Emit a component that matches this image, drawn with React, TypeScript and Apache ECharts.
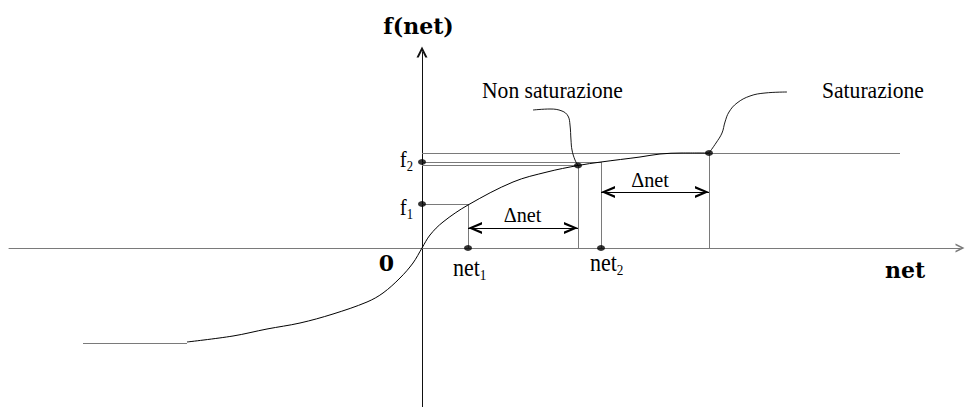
import { useEffect, useRef } from 'react';
import * as echarts from 'echarts';

// Schematic units: 1 unit of net / f(net) on both axes
const curveNet = [-2.35, -1.89, -1.55, -1.22, -0.89, -0.55, -0.39, -0.22, -0.09, 0, 0.08, 0.21, 0.46, 0.91, 1.25, 1.56, 1.79, 2.18, 2.38, 2.6, 2.87];
const curveF = [-0.94, -0.88, -0.81, -0.75, -0.66, -0.54, -0.45, -0.3, -0.15, 0, 0.13, 0.26, 0.43, 0.66, 0.76, 0.825, 0.86, 0.91, 0.94, 0.95, 0.95];

const NET1 = 0.46;
const F1 = 0.44;
const NET_NS = 1.56; // "Non saturazione" point
const F_NS = 0.825;
const NET2 = 1.79;
const F2 = 0.86;
const NET_SAT = 2.87; // "Saturazione" point
const F_SAT = 0.95;
const NET_END = 4.78;
const NET_LEFT = -3.39;
const F_LOW = -0.95;
const ARROW_LEVELS = [0.2, 0.56];

const leaderNsNet = [1.11, 1.28, 1.4, 1.46, 1.48, 1.49, 1.5, 1.53, 1.56];
const leaderNsF = [1.38, 1.39, 1.37, 1.32, 1.23, 1.08, 0.98, 0.88, 0.825];
const leaderSatNet = [2.87, 2.94, 3.0, 3.03, 3.07, 3.15, 3.28, 3.43, 3.65];
const leaderSatF = [0.95, 1.05, 1.15, 1.26, 1.36, 1.45, 1.52, 1.55, 1.56];

const ARROW = 'path://M0,100 L50,0 L100,100 L80,100 L50,38 L20,100 Z';

const zip = (a: number[], b: number[]) => a.map((v, i) => [v, b[i]]);

export default function App() {
  const ref = useRef<HTMLDivElement>(null);
  useEffect(() => {
    const chart = echarts.init(ref.current!, null, { renderer: 'svg' });
    const serif = 'Liberation Serif';
    const bold = 'DejaVu Serif';
    const gray = '#7a7a7a';

    const helpers = [
      [[0, F_SAT], [NET_END, F_SAT]],
      [[0, F2], [NET2, F2]],
      [[0, F_NS], [NET_NS, F_NS]],
      [[0, F1], [NET1, F1]],
      [[NET1, F1], [NET1, 0]],
      [[NET_NS, F_NS], [NET_NS, 0]],
      [[NET2, F2], [NET2, 0]],
      [[NET_SAT, F_SAT], [NET_SAT, 0]],
      [[NET_LEFT, F_LOW], [curveNet[0], F_LOW]],
    ];

    const dots = [[0, F2], [0, F1], [NET1, 0], [NET2, 0], [NET_NS, F_NS], [NET_SAT, F_SAT]];

    const subRich = (size: number, lh: number, sub: number) => ({
      a: { fontFamily: serif, fontSize: size, lineHeight: lh, fill: '#000' },
      b: { fontFamily: serif, fontSize: sub, lineHeight: sub, verticalAlign: 'bottom', fill: '#000' },
    });

    chart.setOption({
      animation: false,
      backgroundColor: '#ffffff',
      grid: { left: 9, right: 7, top: 52, bottom: 0 },
      xAxis: {
        type: 'value',
        min: -4.13,
        max: 5.38,
        axisLine: {
          onZero: true,
          lineStyle: { color: gray, width: 1 },
          symbol: ['none', ARROW],
          symbolSize: [9, 13],
        },
        axisTick: { show: false },
        axisLabel: { show: false },
        splitLine: { show: false },
      },
      yAxis: {
        type: 'value',
        min: -1.59,
        max: 1.96,
        axisLine: {
          onZero: true,
          lineStyle: { color: '#111', width: 1 },
          symbol: ['none', ARROW],
          symbolSize: [13, 11],
        },
        axisTick: { show: false },
        axisLabel: { show: false },
        splitLine: { show: false },
      },
      series: [
        {
          type: 'lines',
          coordinateSystem: 'cartesian2d',
          polyline: false,
          silent: true,
          z: 1,
          lineStyle: { color: gray, width: 1, opacity: 1 },
          data: helpers.map((c) => ({ coords: c })),
        },
        {
          type: 'line',
          data: zip(curveNet, curveF),
          smooth: 0.35,
          showSymbol: false,
          silent: true,
          z: 3,
          lineStyle: { color: '#000', width: 1 },
          markLine: {
            silent: true,
            symbol: [ARROW, ARROW],
            symbolSize: [12, 14],
            symbolOffset: [[0, 7], [0, 7]],
            label: { show: false },
            lineStyle: { color: '#000', width: 1, type: 'solid' },
            data: [
              [{ coord: [NET1, ARROW_LEVELS[0]] }, { coord: [NET_NS, ARROW_LEVELS[0]] }],
              [{ coord: [NET2, ARROW_LEVELS[1]] }, { coord: [NET_SAT, ARROW_LEVELS[1]] }],
            ],
          },
        },
        {
          type: 'line',
          data: zip(leaderNsNet, leaderNsF),
          smooth: 0.4,
          showSymbol: false,
          silent: true,
          z: 3,
          lineStyle: { color: '#000', width: 0.9 },
        },
        {
          type: 'line',
          data: zip(leaderSatNet, leaderSatF),
          smooth: 0.4,
          showSymbol: false,
          silent: true,
          z: 3,
          lineStyle: { color: '#000', width: 0.9 },
        },
        {
          type: 'scatter',
          data: dots,
          symbol: 'circle',
          symbolSize: [8, 6],
          silent: true,
          z: 5,
          itemStyle: { color: '#000' },
        },
      ],
      graphic: [
        { type: 'text', x: 418.5, y: 26, style: { text: 'f(net)', fontFamily: bold, fontWeight: 'bold', fontSize: 22, fill: '#000', align: 'center', verticalAlign: 'middle' } },
        { type: 'text', x: 482, y: 90, scaleX: 0.9, style: { text: 'Non saturazione', fontFamily: serif, fontSize: 24, fill: '#000', align: 'left', verticalAlign: 'middle' } },
        { type: 'text', x: 822, y: 90, scaleX: 0.9, style: { text: 'Saturazione', fontFamily: serif, fontSize: 24, fill: '#000', align: 'left', verticalAlign: 'middle' } },
        { type: 'text', x: 522.5, y: 215, scaleX: 0.92, style: { text: 'Δnet', fontFamily: serif, fontSize: 22, fill: '#000', align: 'center', verticalAlign: 'middle' } },
        { type: 'text', x: 650, y: 180, scaleX: 0.92, style: { text: 'Δnet', fontFamily: serif, fontSize: 22, fill: '#000', align: 'center', verticalAlign: 'middle' } },
        { type: 'text', x: 413, y: 160, scaleX: 0.9, style: { text: '{a|f}{b|2}', fontFamily: serif, rich: subRich(23, 26, 14), align: 'right', verticalAlign: 'middle' } },
        { type: 'text', x: 413, y: 208, scaleX: 0.9, style: { text: '{a|f}{b|1}', fontFamily: serif, rich: subRich(23, 26, 14), align: 'right', verticalAlign: 'middle' } },
        { type: 'text', x: 386.5, y: 263, style: { text: '0', fontFamily: bold, fontWeight: 'bold', fontSize: 22, fill: '#000', align: 'center', verticalAlign: 'middle' } },
        { type: 'text', x: 453, y: 268, scaleX: 0.88, style: { text: '{a|net}{b|1}', fontFamily: serif, rich: subRich(25, 28, 15), align: 'left', verticalAlign: 'middle' } },
        { type: 'text', x: 590, y: 263, scaleX: 0.88, style: { text: '{a|net}{b|2}', fontFamily: serif, rich: subRich(25, 28, 15), align: 'left', verticalAlign: 'middle' } },
        { type: 'text', x: 885, y: 270, style: { text: 'net', fontFamily: bold, fontWeight: 'bold', fontSize: 22, fill: '#000', align: 'left', verticalAlign: 'middle' } },
      ],
    });
    return () => chart.dispose();
  }, []);
  return <div ref={ref} style={{ position: 'fixed', left: 0, top: 0, width: 967, height: 407 }} />;
}
